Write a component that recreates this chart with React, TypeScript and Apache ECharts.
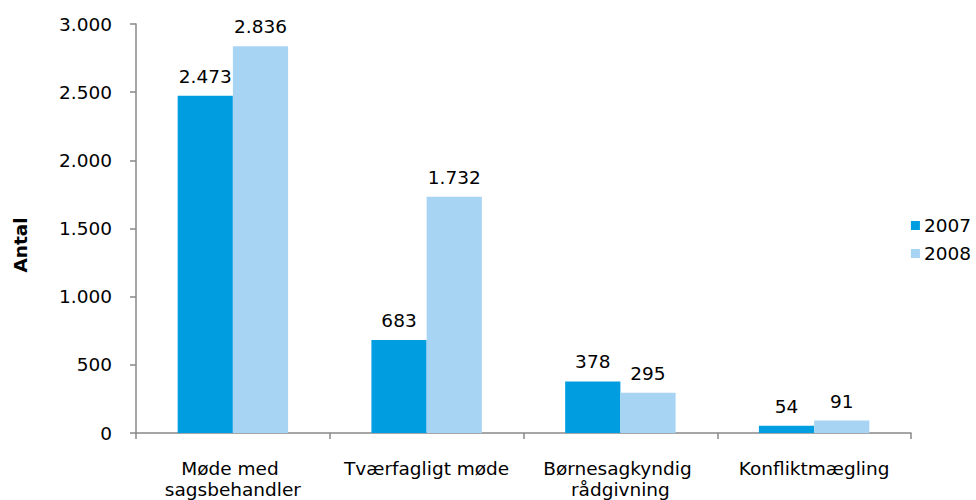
import React, { useEffect, useRef } from "react";
import * as echarts from "echarts";

const categories = ["Møde med sagsbehandler", "Tværfagligt møde", "Børnesagkyndig rådgivning", "Konfliktmægling"];
const series2007 = [2473, 683, 378, 54];
const series2008 = [2836, 1732, 295, 91];
const seriesNames = ["2007", "2008"];
const colors = ["#009EE0", "#A8D4F4"];
const yAxisTitle = "Antal";

const FONT = "DejaVu Sans, Verdana, sans-serif";
const FS = 18.5;
const thousands = (v: number) => String(v).replace(/\B(?=(\d{3})+(?!\d))/g, ".");

export default function App() {
  const ref = useRef<HTMLDivElement>(null);
  useEffect(() => {
    if (!ref.current) return;
    const chart = echarts.init(ref.current, null, { renderer: "svg" });
    const mk = (name: string, data: number[], color: string) => ({
      name,
      type: "bar",
      data,
      barGap: "0%",
      barCategoryGap: "43%",
      itemStyle: { color },
      label: {
        show: true,
        position: "top",
        distance: 10,
        color: "#000",
        fontFamily: FONT,
        fontSize: FS,
        formatter: (p: any) => thousands(p.value),
      },
    });
    chart.setOption({
      animation: false,
      textStyle: { fontFamily: FONT },
      grid: { left: 136, right: 65, top: 24, bottom: 65, containLabel: false },
      graphic: [
        {
          type: "text",
          x: 20,
          y: 245,
          rotation: Math.PI / 2,
          style: {
            text: yAxisTitle,
            fontFamily: FONT,
            fontSize: FS,
            fontWeight: "bold",
            fill: "#000",
            align: "center",
            verticalAlign: "middle",
          },
        },
      ],
      legend: {
        orient: "vertical",
        right: 0,
        top: 211,
        itemWidth: 9,
        itemHeight: 9,
        itemGap: 9,
        icon: "rect",
        textStyle: { fontFamily: FONT, fontSize: FS, color: "#000", padding: [0, 0, 0, -1] },
        data: seriesNames,
      },
      xAxis: {
        type: "category",
        data: categories,
        axisLine: { lineStyle: { color: "#888", width: 1.5 } },
        axisTick: { show: true, length: 6, lineStyle: { color: "#888", width: 1.5 } },
        axisLabel: {
          color: "#000",
          fontFamily: FONT,
          fontSize: FS,
          margin: 25,
          width: 185,
          overflow: "break",
          lineHeight: 21,
          interval: 0,
        },
      },
      yAxis: {
        type: "value",
        min: 0,
        max: 3000,
        interval: 500,
        axisLine: { show: true, lineStyle: { color: "#888", width: 1.5 } },
        axisTick: { show: true, length: 6, lineStyle: { color: "#888", width: 1.5 } },
        splitLine: { show: false },
        axisLabel: {
          color: "#000",
          fontFamily: FONT,
          fontSize: FS,
          margin: 24,
          formatter: (v: number) => thousands(v),
        },
      },
      series: [mk(seriesNames[0], series2007, colors[0]), mk(seriesNames[1], series2008, colors[1])],
    });
    return () => chart.dispose();
  }, []);
  return <div ref={ref} style={{ width: 976, height: 500, position: "absolute", left: 0, top: 0 }} />;
}
